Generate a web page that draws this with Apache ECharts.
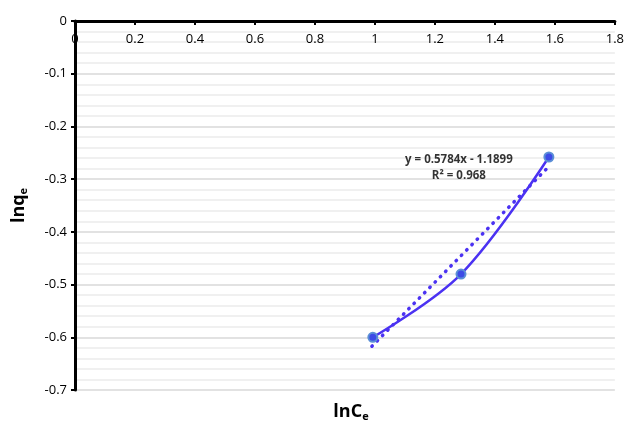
<!DOCTYPE html>
<html>
<head>
<meta charset="utf-8">
<script src="https://cdn.jsdelivr.net/npm/echarts@6/dist/echarts.min.js"></script>
<style>
  html, body { margin: 0; padding: 0; background: #fff; }
  #chart { width: 627px; height: 421px; }
</style>
</head>
<body>
<div id="chart"></div>
<script>
// 数据点 lnCe / lnqe
const lnC = [0.993, 1.287, 1.58]
const lnQ = [-0.6, -0.48, -0.258]
// 线性趋势线两端
const trendX = [0.99, 1.58]
const trendY = [-0.617, -0.276]
// 趋势线公式标签
const eqText = ['y = 0.5784x - 1.1899', 'R² = 0.968']
const eqPos = [1.28, -0.279]

const font = 'Open Sans'
const lineColor = '#4B32F2'

let chart = echarts.init(document.getElementById('chart'))

chart.setOption({
  animation: false,
  grid: { left: 75, right: 12, top: 21, bottom: 31 },
  title: {
    text: '{a|lnC}{b|e}',
    left: 346,
    top: 397,
    textAlign: 'center',
    textStyle: {
      rich: {
        a: { fontFamily: font, fontSize: 18, fontWeight: 'bold', color: '#000' },
        b: { fontFamily: font, fontSize: 11, fontWeight: 'bold', color: '#000', verticalAlign: 'bottom', padding: [9, 0, 0, 0] }
      }
    }
  },
  xAxis: {
    type: 'value',
    position: 'top',
    min: 0,
    max: 1.8,
    interval: 0.2,
    axisLine: { onZero: false, lineStyle: { color: '#000', width: 3 } },
    axisTick: { show: true, inside: true, length: 4, lineStyle: { color: '#000', width: 2 } },
    axisLabel: { inside: true, margin: 12, color: '#000', fontFamily: font, fontSize: 13 },
    splitLine: { show: false }
  },
  yAxis: {
    type: 'value',
    min: -0.7,
    max: 0,
    interval: 0.1,
    name: '{a|lnq}{b|e}',
    nameLocation: 'middle',
    nameRotate: 90,
    nameGap: 46,
    nameTextStyle: {
      rich: {
        a: { fontFamily: font, fontSize: 18, fontWeight: 'bold', color: '#000' },
        b: { fontFamily: font, fontSize: 11, fontWeight: 'bold', color: '#000', verticalAlign: 'bottom', padding: [9, 0, 0, 0] }
      }
    },
    axisLine: { onZero: false, lineStyle: { color: '#000', width: 3 } },
    axisTick: { show: true, length: 4, lineStyle: { color: '#000', width: 2 } },
    axisLabel: { color: '#000', fontFamily: font, fontSize: 13, margin: 8 },
    splitLine: { show: true, lineStyle: { color: '#d9d9d9', width: 1.5 } },
    minorTick: { show: false, splitNumber: 5 },
    minorSplitLine: { show: true, lineStyle: { color: '#ebebeb', width: 1.5 } }
  },
  series: [
    {
      type: 'line',
      data: trendX.map((x, i) => [x, trendY[i]]),
      symbol: 'none',
      lineStyle: { color: lineColor, width: 3.5, type: [0.5, 7], cap: 'round' },
      z: 2
    },
    {
      type: 'line',
      data: lnC.map((x, i) => [x, lnQ[i]]),
      smooth: 0.35,
      symbol: 'circle',
      symbolSize: 9,
      itemStyle: { color: '#3d4be6', borderColor: '#5b8fd6', borderWidth: 2 },
      lineStyle: { color: lineColor, width: 2.5 },
      z: 3
    },
    {
      type: 'scatter',
      data: [eqPos],
      symbolSize: 0,
      silent: true,
      label: {
        show: true,
        position: 'inside',
        formatter: eqText.join('\n'),
        align: 'center',
        fontFamily: font,
        fontSize: 11.5,
        fontWeight: 'bold',
        lineHeight: 16,
        color: '#000'
      }
    }
  ]
})
</script>
</body>
</html>
